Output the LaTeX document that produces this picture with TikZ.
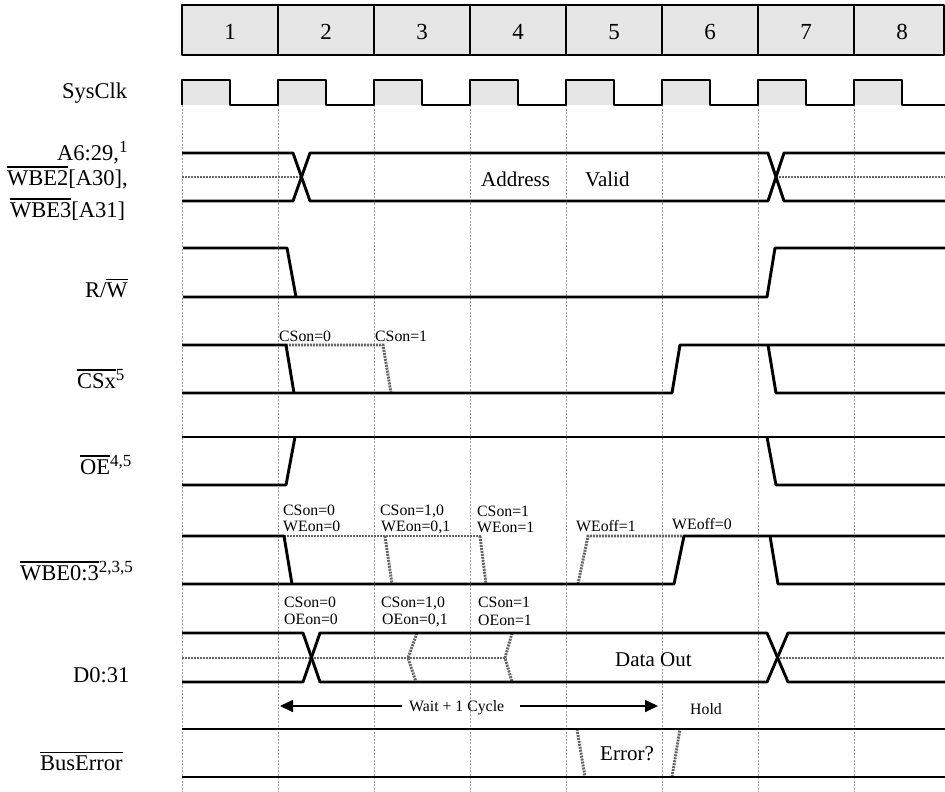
\documentclass[tikz,border=0pt]{standalone}
\usepackage{fontspec}
\setmainfont{Liberation Serif}
\usetikzlibrary{arrows.meta}
\definecolor{hdrfill}{RGB}{230,230,230}
\definecolor{altgray}{RGB}{100,100,100}
\definecolor{gridgray}{RGB}{160,160,160}
\newcommand\olx[1]{\vbox{\hrule height 1.5pt\kern 2.2pt\hbox{#1}}}
\newcommand\supx[1]{\raisebox{8pt}{\fontsize{17}{20}\selectfont #1}}
\begin{document}
\begin{tikzpicture}[x=1pt,y=-1pt,
 sig/.style={line width=2.9pt, line join=round},
 alt/.style={line width=2.9pt, draw=altgray, dash pattern=on 2pt off 1pt},
 gridl/.style={line width=0.7pt, draw=gridgray, dash pattern=on 2pt off 1.5pt},
 big/.style={anchor=base west, inner sep=0pt, font=\fontsize{22.5}{26}\selectfont},
 mid/.style={anchor=base west, inner sep=0pt, font=\fontsize{21}{25}\selectfont},
 sml/.style={anchor=base west, inner sep=0pt, font=\fontsize{15.8}{18}\selectfont},
 hdr/.style={anchor=base, inner sep=0pt, font=\fontsize{23}{26}\selectfont},
 arr/.style={line width=1.7pt, -{Triangle[length=13pt,width=12pt]}},
]
\useasboundingbox (0,0) rectangle (945,792);
% header
\fill[hdrfill] (182,5) rectangle (944,55);
\draw[sig] (182,5) rectangle (944,55);
\foreach \x in {278,374,...,854} \draw[sig] (\x,5) -- (\x,55);
\foreach \i in {1,...,8} \node[hdr] (h\i) at ({230+96*(\i-1)},40) {\i};
% grid
\foreach \x in {182,278,...,854} \draw[gridl] (\x,105) -- (\x,792);
% SysClk
\foreach \i in {0,...,7} \fill[hdrfill] ({182+96*\i},80) rectangle ({230+96*\i},105);
\draw[sig] (182,105) -- (182,80) -- (230,80) -- (230,105) -- (278,105)
 -- (278,80) -- (326,80) -- (326,105) -- (374,105)
 -- (374,80) -- (422,80) -- (422,105) -- (470,105)
 -- (470,80) -- (518,80) -- (518,105) -- (566,105)
 -- (566,80) -- (614,80) -- (614,105) -- (662,105)
 -- (662,80) -- (710,80) -- (710,105) -- (758,105)
 -- (758,80) -- (806,80) -- (806,105) -- (854,105)
 -- (854,80) -- (902,80) -- (902,105) -- (945,105);
% labels
\node[big] (lclk) at (62,99) {SysClk};
\node[big] (la1) at (57,160) {A6:29,\supx{1}};
\node[big] (la2) at (7,185) {\olx{WBE2}[A30],};
\node[big] (la3) at (10,217) {\olx{WBE3}[A31]};
\node[big] (lrw) at (85,297) {R/\olx{W}};
\node[big] (lcs) at (77,388) {\olx{CSx}\supx{5}};
\node[big] (loe) at (80,474) {\olx{OE}\supx{4,5}};
\node[big] (lwbe) at (20,580) {\olx{WBE0:3}\supx{2,3,5}};
\node[big] (ld) at (73,682) {D0:31};
\node[big] (lbe) at (40,770) {\olx{BusError}};
% Address bus
\draw[alt] (182,177) -- (301,177);
\draw[alt] (776,177) -- (945,177);
\draw[sig] (182,153) -- (293,153) -- (310,201) -- (768,201) -- (784,153) -- (945,153);
\draw[sig] (182,201) -- (293,201) -- (310,153) -- (768,153) -- (784,201) -- (945,201);
\node[mid] (addr) at (481,186) {Address};
\node[mid] (valid) at (585,186) {Valid};
% R/W
\draw[sig] (183,248) -- (287,248) -- (296,297);
\draw[sig] (183,297) -- (767,297) -- (775,248) -- (945,248);
% CSx
\draw[alt] (286,345) -- (383,345) -- (391,393);
\draw[sig] (182,345) -- (286,345) -- (294,393);
\draw[sig] (182,393) -- (672,393) -- (680,345) -- (945,345);
\draw[sig] (768,345) -- (776,393) -- (945,393);
\node[sml] (cs0) at (279,341) {CSon=0};
\node[sml] (cs1) at (375,341) {CSon=1};
% OE
\draw[sig] (182,437) -- (945,437);
\draw[sig] (182,485) -- (286,485) -- (295,437);
\draw[sig] (767,437) -- (776,485) -- (945,485);
% WBE0:3
\draw[alt] (284,536) -- (481,536);
\draw[alt] (385,536) -- (392,584);
\draw[alt] (480,536) -- (486,584);
\draw[alt] (578,584) -- (588,536) -- (684,536);
\draw[sig] (182,536) -- (284,536) -- (292,584);
\draw[sig] (182,584) -- (674,584) -- (684,536) -- (945,536);
\draw[sig] (770,536) -- (778,584) -- (945,584);
\node[sml] (w1a) at (283,515) {CSon=0};
\node[sml] (w1b) at (283,531) {WEon=0};
\node[sml] (w2a) at (380,515) {CSon=1,0};
\node[sml] (w2b) at (381,531) {WEon=0,1};
\node[sml] (w3a) at (477,516) {CSon=1};
\node[sml] (w3b) at (477,532) {WEon=1};
\node[sml] (w4) at (576,531) {WEoff=1};
\node[sml] (w5) at (672,529) {WEoff=0};
% D0:31
\draw[alt] (182,658) -- (505,658);
\draw[alt] (777,658) -- (945,658);
\draw[alt] (417,633) -- (408,658) -- (416,682);
\draw[alt] (512,633) -- (505,658) -- (512,682);
\draw[sig] (182,633) -- (303,633) -- (320,682) -- (767,682) -- (788,633) -- (945,633);
\draw[sig] (182,682) -- (303,682) -- (320,633) -- (767,633) -- (788,682) -- (945,682);
\node[sml] (d1a) at (284,607) {CSon=0};
\node[sml] (d1b) at (284,624) {OEon=0};
\node[sml] (d2a) at (381,607) {CSon=1,0};
\node[sml] (d2b) at (382,624) {OEon=0,1};
\node[sml] (d3a) at (478,607) {CSon=1};
\node[sml] (d3b) at (478,625) {OEon=1};
\node[mid] (dout) at (615,666) {Data Out};
% wait arrow
\node[sml] (wait) at (409,711) {Wait + 1 Cycle};
\node[sml] (hold) at (690,714) {Hold};
\coordinate (wl0) at (402,706);
\coordinate (wl1) at (280,706);
\coordinate (wr0) at (520,706);
\coordinate (wr1) at (658,706);
\draw[arr] (wl0) -- (wl1);
\draw[arr] (wr0) -- (wr1);
% BusError
\draw[alt] (577,729) -- (585,777);
\draw[alt] (672,777) -- (680,729);
\draw[sig] (182,729) -- (945,729);
\draw[sig] (182,777) -- (945,777);
\node[mid] (err) at (600,760) {Error?};
\end{tikzpicture}
\end{document}
